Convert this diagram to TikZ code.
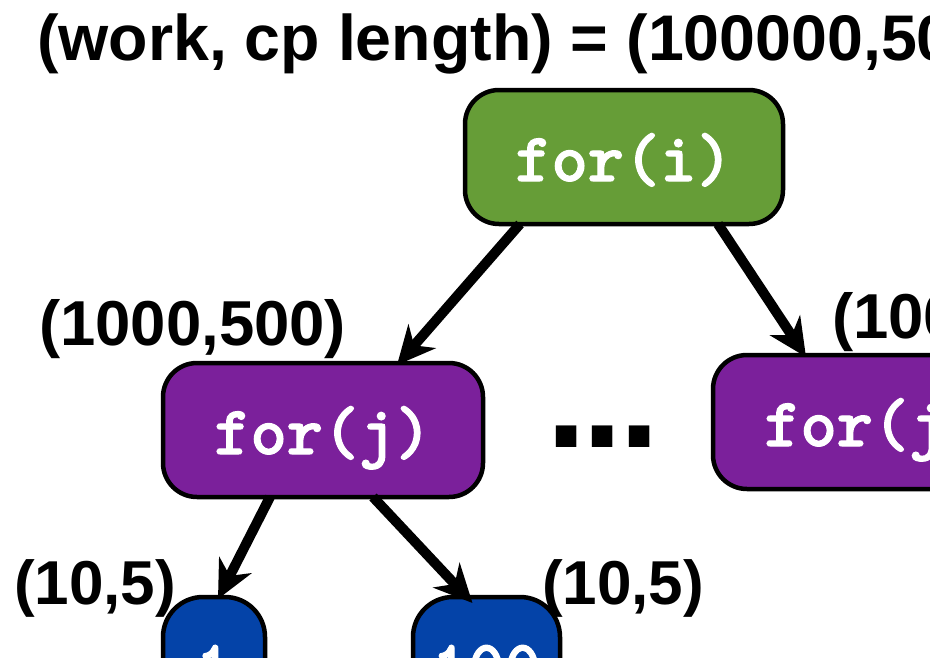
\documentclass[tikz,border=0pt]{standalone}
\usepackage{fontspec}
\setmainfont{Liberation Sans}
\newfontfamily\codefont{lmmonolt10-bold}[Extension=.otf, FakeBold=1.6]
\usetikzlibrary{arrows.meta,calc}

\definecolor{loopgreen}{RGB}{102,157,55}
\definecolor{looppurple}{RGB}{123,32,155}
\definecolor{loopblue}{RGB}{4,67,168}

\tikzset{
  x=1pt, y=-1pt,
  loopbox/.style={draw=black, line width=4.5pt, rounded corners=34pt,
    text=white, inner sep=0pt, outer sep=0pt,
    text height=48pt, text depth=0pt,
    font=\fontsize{69}{69}\selectfont\codefont},
  cost/.style={inner sep=0pt, outer sep=0pt, anchor=base west,
    font=\fontsize{63.5}{64}\selectfont\bfseries},
  arr/.style={line width=10pt, -{Stealth[length=38pt,width=36pt,inset=12pt]}},
}

\begin{document}
\begin{tikzpicture}
\useasboundingbox (0,0) rectangle (930,657);
\clip (0,0) rectangle (930,657);

% loop nest
\node[loopbox, fill=loopgreen, minimum width=318pt, minimum height=134pt] (fi) at (624,157) {for(i)};
\node[loopbox, fill=looppurple, minimum width=320pt, minimum height=134pt] (fj1) at (323,430) {for(j)};
\node[loopbox, fill=looppurple, minimum width=320pt, minimum height=134pt] (fj2) at (873,422) {for(j)};
\node[loopbox, fill=loopblue, minimum width=102pt, minimum height=134pt, rounded corners=40pt] (b1) at (214,664) {1};
\node[loopbox, fill=loopblue, minimum width=147pt, minimum height=134pt, rounded corners=40pt] (b2) at (486.5,664) {100};

% ellipsis between the two inner loops
\node[inner sep=0pt, font=\fontsize{145}{145}\selectfont\bfseries] (dots) at (603,437) {.\kern-4pt.\kern-4pt.};

% (work, cp length) annotations
\node[cost, font=\fontsize{64.5}{65}\selectfont\bfseries] (title) at (37,60) {(work, cp length) = (100000,500)};
\node[cost] (cj1) at (39,345) {(1000,500)};
\node[cost] (cj2) at (832,338) {(1000,5)};
\node[cost, font=\fontsize{62}{62}\selectfont\bfseries] (cb1) at (14,604) {(10,5)};
\node[cost, font=\fontsize{62}{62}\selectfont\bfseries] (cb2) at (542,604) {(10,5)};

% edges
\draw[arr] ([xshift=-104pt]fi.south) -- ([xshift=74pt,yshift=-2pt]fj1.north);
\draw[arr] ([xshift=94pt]fi.south) -- ([xshift=-67pt,yshift=-2pt]fj2.north);
\draw[arr] ([xshift=-53pt]fj1.south) -- ([xshift=4pt,yshift=-2pt]b1.north);
\draw[arr] ([xshift=50pt]fj1.south) -- ([xshift=-14pt,yshift=-6pt]b2.north);
\end{tikzpicture}
\end{document}
